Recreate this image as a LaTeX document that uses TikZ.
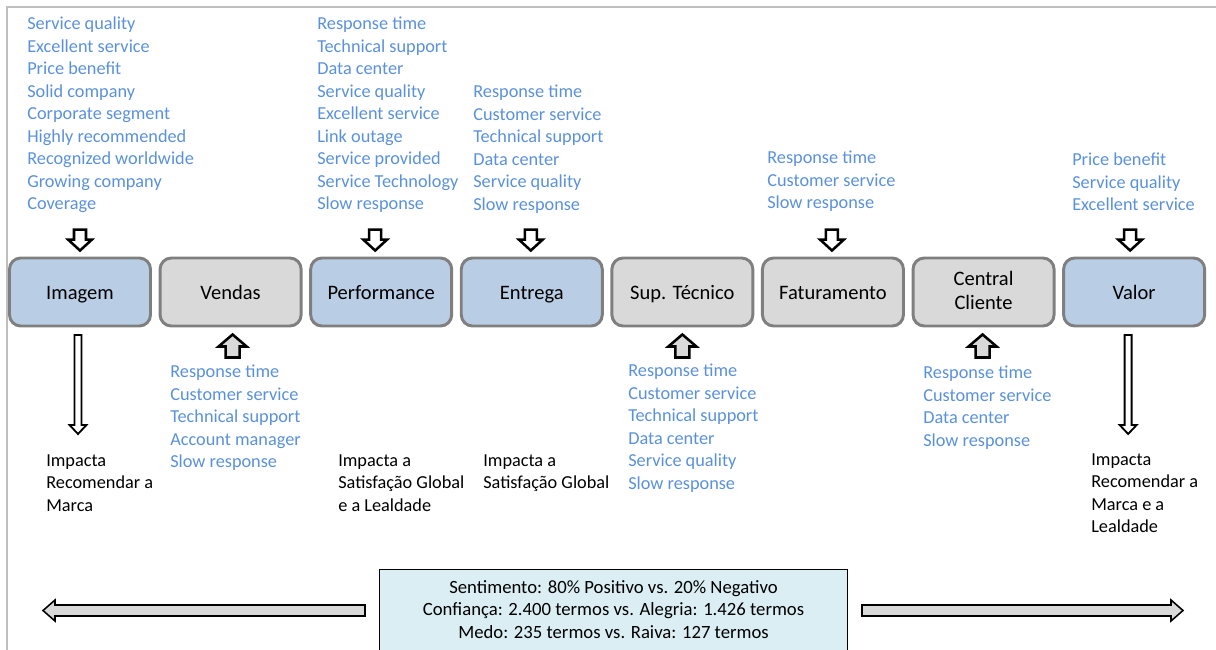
\documentclass[tikz,border=0pt]{standalone}
\usepackage{fontspec}
\setmainfont{Carlito}
\usetikzlibrary{positioning, calc}
\definecolor{boxblue}{RGB}{185,205,229}
\definecolor{boxgray}{RGB}{217,217,217}
\definecolor{boxline}{RGB}{127,127,127}
\definecolor{termblue}{RGB}{90,145,220}
\definecolor{sentfill}{RGB}{218,238,243}
\definecolor{framegray}{RGB}{191,191,191}

\begin{document}
\begin{tikzpicture}[x=0.025cm, y=-0.025cm, node distance=1.65mm,
  font=\fontsize{13}{16}\selectfont,
  stage/.style={draw=boxline, line width=2.1pt, rounded corners=8pt, align=center,
    minimum width=3.525cm, minimum height=1.7cm, inner sep=1pt,
    font=\fontsize{14.6}{17}\selectfont,
    execute at begin node={\rule[-2pt]{0pt}{15pt}}},
  terms/.style={text=termblue, align=left, anchor=north west, inner sep=0pt},
  impact/.style={align=left, anchor=north west, inner sep=0pt},
  tinydown/.style={draw=black, line width=1.8pt, fill=white, line join=miter},
  tinyup/.style={draw=black, line width=1.8pt, fill=boxgray, line join=miter},
  longdown/.style={draw=black, line width=1.3pt, fill=white, line join=miter},
  bigarrow/.style={draw=black, line width=1.1pt, fill=boxgray, line join=miter},
  sentbox/.style={draw=black, line width=1pt, fill=sentfill,
    minimum width=11.7cm, minimum height=3cm}]
  \path[use as bounding box] (0,0) rectangle (1216,650);
  \clip (0,0) rectangle (1216,650);
  \draw[framegray, line width=1.1pt] (7,650) -- (7,7) -- (1216,7);

  % stages
  \node[stage, fill=boxblue] (img) at (80,292) {Imagem};
  \node[stage, fill=boxgray, right=of img] (vend) {Vendas};
  \node[stage, fill=boxblue, right=of vend] (perf) {Performance};
  \node[stage, fill=boxblue, right=of perf] (entr) {Entrega};
  \node[stage, fill=boxgray, right=of entr] (sup) {Sup. Técnico};
  \node[stage, fill=boxgray, right=of sup] (fat) {Faturamento};
  \node[stage, fill=boxgray, right=of fat] (cent) {Central\\Cliente};
  \node[stage, fill=boxblue, right=of cent] (val) {Valor};

  % terms above
  \node[terms] (imgterms) at (27,17) {Service quality\\Excellent service\\Price benefit\\Solid company\\Corporate segment\\Highly recommended\\Recognized worldwide\\Growing company\\Coverage};
  \node[terms] (perfterms) at (317,17) {Response time\\Technical support\\Data center\\Service quality\\Excellent service\\Link outage\\Service provided\\Service Technology\\Slow response};
  \node[terms] (entrterms) at (473,85) {Response time\\Customer service\\Technical support\\Data center\\Service quality\\Slow response};
  \node[terms] (fatterms) at (767,151) {Response time\\Customer service\\Slow response};
  \node[terms] (valterms) at (1072,153) {Price benefit\\Service quality\\Excellent service};

  % terms below
  \node[terms] (vendterms) at (170,365) {Response time\\Customer service\\Technical support\\Account manager\\Slow response};
  \node[terms] (supterms) at (628,364) {Response time\\Customer service\\Technical support\\Data center\\Service quality\\Slow response};
  \node[terms] (centterms) at (923,366) {Response time\\Customer service\\Data center\\Slow response};

  % impacts
  \node[impact] (imgimp) at (46,454) {Impacta\\Recomendar a\\Marca};
  \node[impact] (perfimp) at (338,454) {Impacta a\\Satisfação Global\\e a Lealdade};
  \node[impact] (entrimp) at (483,454) {Impacta a\\Satisfação Global};
  \node[impact] (valimp) at (1091,453) {Impacta\\Recomendar a\\Marca e a\\Lealdade};

  % small block arrows
  \foreach \b/\dx in {img/0,perf/-6,entr/-1,fat/-1,val/-4}
    \draw[tinydown] ($(\b.north)+(\dx,0)$) ++(-6,-27) -- ++(12,0) -- ++(0,10)
      -- ++(6,0) -- ++(-12,11) -- ++(-12,-11) -- ++(6,0) -- cycle;
  \foreach \b/\dx in {vend/2,sup/0,cent/-1}
    \draw[tinyup] ($(\b.south)+(\dx,0)$) ++(0,7) -- ++(14,12) -- ++(-7,0)
      -- ++(0,11) -- ++(-14,0) -- ++(0,-11) -- ++(-7,0) -- cycle;
  \foreach \b/\dx in {img/-2,val/-6}
    \draw[longdown] ($(\b.south)+(\dx,0)$) ++(-3.5,7.5) -- ++(7,0) -- ++(0,90)
      -- ++(5,0) -- ++(-8.5,9) -- ++(-8.5,-9) -- ++(5,0) -- cycle;

  % sentiment
  \node[sentbox, anchor=north] (sent) at (613.5,569) {};
  \node[align=center, inner sep=0pt, below=0.27cm of sent.north,
    font=\fontsize{13.3}{16}\selectfont] (senttext)
    {Sentimento: 80\% Positivo vs. 20\% Negativo\\Confiança: 2.400 termos vs. Alegria: 1.426 termos\\Medo: 235 termos vs. Raiva: 127 termos};
  \draw[bigarrow] (365,605) -- (55,605) -- (55,600) -- (43,610.5) -- (55,621)
    -- (55,616) -- (365,616) -- cycle;
  \draw[bigarrow] (862,605) -- (1171,605) -- (1171,600) -- (1183,610.5)
    -- (1171,621) -- (1171,616) -- (862,616) -- cycle;
\end{tikzpicture}
\end{document}
